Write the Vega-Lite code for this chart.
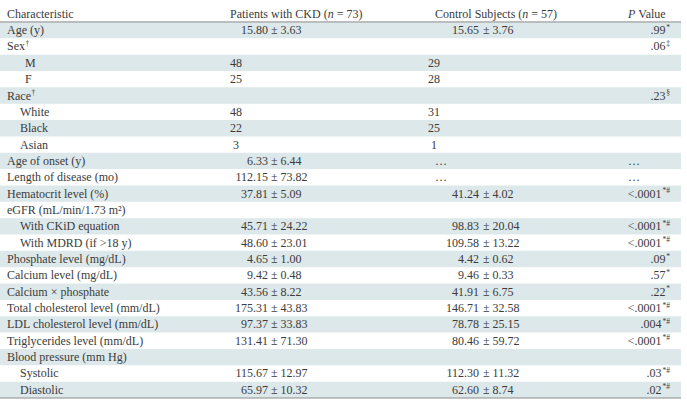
{
  "$schema": "https://vega.github.io/schema/vega-lite/v6.json",
  "width": 681,
  "height": 402,
  "autosize": "none",
  "padding": 0,
  "background": "white",
  "config": {"view": {"stroke": null}, "text": {"font": "Liberation Serif", "fontSize": 12, "color": "#3b3b3b", "baseline": "middle"}},
  "data": {"values": [
    {"r":0,"c":0,"t":"Characteristic"},{"r":0,"c":3,"t":"Patients with CKD ("},{"r":0,"c":7,"t":"n"},{"r":0,"c":8,"t":"= 73)"},
    {"r":0,"c":10,"t":"Control Subjects ("},{"r":0,"c":14,"t":"n"},{"r":0,"c":15,"t":"= 57)"},{"r":0,"c":17,"t":"P"},{"r":0,"c":18,"t":"Value"},
    {"r":1,"c":0,"t":"Age (y)"},{"r":1,"c":5,"t":"15.80"},{"r":1,"c":6,"t":"± 3.63"},{"r":1,"c":12,"t":"15.65"},{"r":1,"c":13,"t":"± 3.76"},{"r":1,"c":19,"t":".99","s":"*"},
    {"r":2,"c":0,"t":"Sex","s":"†"},{"r":2,"c":19,"t":".06","s":"‡"},
    {"r":3,"c":2,"t":"M"},{"r":3,"c":4,"t":"48"},{"r":3,"c":9,"t":"29"},
    {"r":4,"c":2,"t":"F"},{"r":4,"c":4,"t":"25"},{"r":4,"c":9,"t":"28"},
    {"r":5,"c":0,"t":"Race","s":"†"},{"r":5,"c":19,"t":".23","s":"§"},
    {"r":6,"c":1,"t":"White"},{"r":6,"c":4,"t":"48"},{"r":6,"c":9,"t":"31"},
    {"r":7,"c":1,"t":"Black"},{"r":7,"c":4,"t":"22"},{"r":7,"c":9,"t":"25"},
    {"r":8,"c":1,"t":"Asian"},{"r":8,"c":4,"t":"3"},{"r":8,"c":9,"t":"1"},
    {"r":9,"c":0,"t":"Age of onset (y)"},{"r":9,"c":5,"t":"6.33"},{"r":9,"c":6,"t":"± 6.44"},{"r":9,"c":11,"t":"…"},{"r":9,"c":16,"t":"…"},
    {"r":10,"c":0,"t":"Length of disease (mo)"},{"r":10,"c":5,"t":"112.15"},{"r":10,"c":6,"t":"± 73.82"},{"r":10,"c":11,"t":"…"},{"r":10,"c":16,"t":"…"},
    {"r":11,"c":0,"t":"Hematocrit level (%)"},{"r":11,"c":5,"t":"37.81"},{"r":11,"c":6,"t":"± 5.09"},{"r":11,"c":12,"t":"41.24"},{"r":11,"c":13,"t":"± 4.02"},{"r":11,"c":19,"t":"<.0001","s":"*#"},
    {"r":12,"c":0,"t":"eGFR (mL/min/1.73 m²)"},
    {"r":13,"c":1,"t":"With CKiD equation"},{"r":13,"c":5,"t":"45.71"},{"r":13,"c":6,"t":"± 24.22"},{"r":13,"c":12,"t":"98.83"},{"r":13,"c":13,"t":"± 20.04"},{"r":13,"c":19,"t":"<.0001","s":"*#"},
    {"r":14,"c":1,"t":"With MDRD (if >18 y)"},{"r":14,"c":5,"t":"48.60"},{"r":14,"c":6,"t":"± 23.01"},{"r":14,"c":12,"t":"109.58"},{"r":14,"c":13,"t":"± 13.22"},{"r":14,"c":19,"t":"<.0001","s":"*#"},
    {"r":15,"c":0,"t":"Phosphate level (mg/dL)"},{"r":15,"c":5,"t":"4.65"},{"r":15,"c":6,"t":"± 1.00"},{"r":15,"c":12,"t":"4.42"},{"r":15,"c":13,"t":"± 0.62"},{"r":15,"c":19,"t":".09","s":"*"},
    {"r":16,"c":0,"t":"Calcium level (mg/dL)"},{"r":16,"c":5,"t":"9.42"},{"r":16,"c":6,"t":"± 0.48"},{"r":16,"c":12,"t":"9.46"},{"r":16,"c":13,"t":"± 0.33"},{"r":16,"c":19,"t":".57","s":"*"},
    {"r":17,"c":0,"t":"Calcium × phosphate"},{"r":17,"c":5,"t":"43.56"},{"r":17,"c":6,"t":"± 8.22"},{"r":17,"c":12,"t":"41.91"},{"r":17,"c":13,"t":"± 6.75"},{"r":17,"c":19,"t":".22","s":"*"},
    {"r":18,"c":0,"t":"Total cholesterol level (mm/dL)"},{"r":18,"c":5,"t":"175.31"},{"r":18,"c":6,"t":"± 43.83"},{"r":18,"c":12,"t":"146.71"},{"r":18,"c":13,"t":"± 32.58"},{"r":18,"c":19,"t":"<.0001","s":"*#"},
    {"r":19,"c":0,"t":"LDL cholesterol level (mm/dL)"},{"r":19,"c":5,"t":"97.37"},{"r":19,"c":6,"t":"± 33.83"},{"r":19,"c":12,"t":"78.78"},{"r":19,"c":13,"t":"± 25.15"},{"r":19,"c":19,"t":".004","s":"*#"},
    {"r":20,"c":0,"t":"Triglycerides level (mm/dL)"},{"r":20,"c":5,"t":"131.41"},{"r":20,"c":6,"t":"± 71.30"},{"r":20,"c":12,"t":"80.46"},{"r":20,"c":13,"t":"± 59.72"},{"r":20,"c":19,"t":"<.0001","s":"*#"},
    {"r":21,"c":0,"t":"Blood pressure (mm Hg)"},
    {"r":22,"c":1,"t":"Systolic"},{"r":22,"c":5,"t":"115.67"},{"r":22,"c":6,"t":"± 12.97"},{"r":22,"c":12,"t":"112.30"},{"r":22,"c":13,"t":"± 11.32"},{"r":22,"c":19,"t":".03","s":"*#"},
    {"r":23,"c":1,"t":"Diastolic"},{"r":23,"c":5,"t":"65.97"},{"r":23,"c":6,"t":"± 10.32"},{"r":23,"c":12,"t":"62.60"},{"r":23,"c":13,"t":"± 8.74"},{"r":23,"c":19,"t":".02","s":"*#"}
  ]},
  "encoding": {
    "y": {"field": "r", "type": "ordinal", "axis": null,
          "scale": {"type": "band", "domain": [0,1,2,3,4,5,6,7,8,9,10,11,12,13,14,15,16,17,18,19,20,21,22,23], "range": [5.6, 398], "paddingInner": 0, "paddingOuter": 0}}
  },
  "layer": [
    {"transform": [{"filter": "datum.c <= 2 && datum.r % 2 == 1"}], "mark": {"type": "rect", "color": "#dde8ea"}},
    {"transform": [{"filter": "datum.c <= 2 && datum.r == 1"}], "mark": {"type": "rule", "color": "#8a8a8a", "strokeWidth": 1},
     "encoding": {"y": {"field": "r", "type": "ordinal", "bandPosition": 0}}},
    {"transform": [{"filter": "datum.c <= 2 && datum.r == 23"}], "mark": {"type": "rule", "color": "#8a8a8a", "strokeWidth": 1},
     "encoding": {"y": {"field": "r", "type": "ordinal", "bandPosition": 1}}},
    {"transform": [{"filter": "indexof([0,1,2,3,6,8,10,11,13,15,16,18], datum.c) >= 0"}],
     "mark": {"type": "text", "align": "left"},
     "encoding": {"x": {"field": "c", "type": "quantitative", "axis": null, "scale": {"domain": [0,1,2,3,4,5,6,7,8,9,10,11,12,13,14,15,16,17,18,19], "range": [7,20,25,230,236,268,271,327.7,336.7,434,435,435,479,483,522.3,531.3,628,628,638.3,670], "nice": false, "zero": false}}, "text": {"field": "t"}}},
    {"transform": [{"filter": "indexof([7,14,17], datum.c) >= 0"}],
     "mark": {"type": "text", "align": "left", "fontStyle": "italic"},
     "encoding": {"x": {"field": "c", "type": "quantitative"}, "text": {"field": "t"}}},
    {"transform": [{"filter": "indexof([5,12], datum.c) >= 0"}],
     "mark": {"type": "text", "align": "right"},
     "encoding": {"x": {"field": "c", "type": "quantitative"}, "text": {"field": "t"}}},
    {"transform": [{"filter": "indexof([4,9], datum.c) >= 0"}],
     "mark": {"type": "text", "align": "center"},
     "encoding": {"x": {"field": "c", "type": "quantitative"}, "text": {"field": "t"}}},
    {"transform": [{"filter": "datum.c == 19 && length(datum.s) == 1"}],
     "mark": {"type": "text", "align": "right", "dx": -4.5},
     "encoding": {"x": {"field": "c", "type": "quantitative"}, "text": {"field": "t"}}},
    {"transform": [{"filter": "datum.c == 19 && length(datum.s) == 2"}],
     "mark": {"type": "text", "align": "right", "dx": -8.5},
     "encoding": {"x": {"field": "c", "type": "quantitative"}, "text": {"field": "t"}}},
    {"transform": [{"filter": "datum.c == 19"}],
     "mark": {"type": "text", "align": "right", "fontSize": 7.5, "dy": -2.5},
     "encoding": {"x": {"field": "c", "type": "quantitative"}, "text": {"field": "s"}}},
    {"transform": [{"filter": "datum.c == 0 && datum.r == 2"}],
     "mark": {"type": "text", "align": "left", "fontSize": 7.5, "dy": -2.5, "dx": 18.5},
     "encoding": {"x": {"field": "c", "type": "quantitative"}, "text": {"field": "s"}}},
    {"transform": [{"filter": "datum.c == 0 && datum.r == 5"}],
     "mark": {"type": "text", "align": "left", "fontSize": 7.5, "dy": -2.5, "dx": 24.5},
     "encoding": {"x": {"field": "c", "type": "quantitative"}, "text": {"field": "s"}}}
  ]
}
